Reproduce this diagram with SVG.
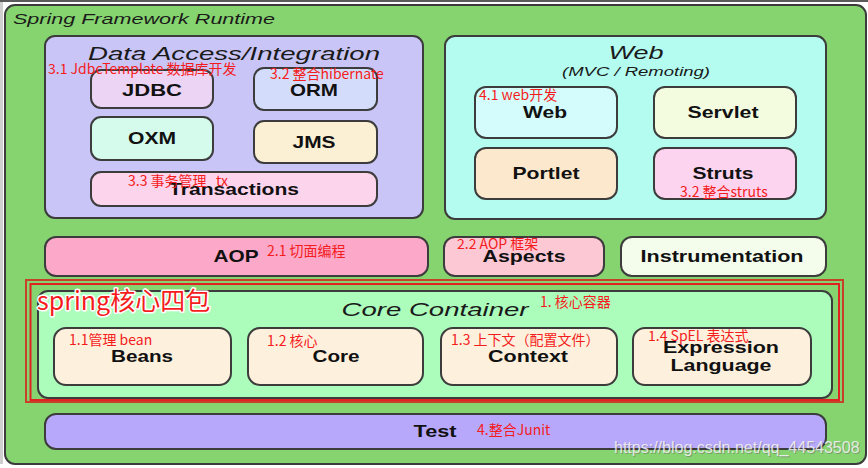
<svg xmlns="http://www.w3.org/2000/svg" width="868" height="468" viewBox="0 0 868 468">
<style>
.box{stroke:#3c3c3c;stroke-width:2}
.lbl{font-family:"Liberation Sans",Arial,sans-serif;font-weight:bold;font-size:17px;fill:#111;text-anchor:middle}
.ttl{font-family:"Liberation Sans",Arial,sans-serif;font-style:italic;fill:#1a1a1a;text-anchor:middle}
.note{font-family:"Noto Sans CJK SC","Noto Sans",sans-serif;font-size:14px;fill:#f41c1c}
</style>
<rect x="0" y="0" width="868" height="468" fill="#ffffff"/>
<rect x="0" y="0" width="868" height="2" fill="#5a5a5a"/>
<rect x="0" y="2" width="3" height="462" fill="#cfcfcf"/>

<g id="runtime">
<rect class="box" x="5" y="5" width="861" height="459" rx="10" fill="#86d46f"/>
<text class="ttl" x="13" y="24" font-size="15" style="text-anchor:start" textLength="262" lengthAdjust="spacingAndGlyphs">Spring Framework Runtime</text>
</g>

<g id="data-access">
<rect class="box" x="45" y="36" width="378" height="182" rx="10" fill="#c9c5f6"/>
<text class="ttl" x="234" y="60" font-size="19" textLength="292" lengthAdjust="spacingAndGlyphs">Data Access/Integration</text>
</g>
<g id="jdbc">
<rect class="box" x="91" y="70" width="122" height="38" rx="10" fill="#ecd4f4"/>
<text class="lbl" x="152" y="96" textLength="60" lengthAdjust="spacingAndGlyphs">JDBC</text>
</g>
<g id="orm">
<rect class="box" x="254" y="68" width="123" height="42" rx="10" fill="#d4dcfb"/>
<text class="lbl" x="314" y="96" textLength="48" lengthAdjust="spacingAndGlyphs">ORM</text>
</g>
<g id="oxm">
<rect class="box" x="91" y="117" width="122" height="43" rx="10" fill="#d4fbec"/>
<text class="lbl" x="152" y="144" textLength="48" lengthAdjust="spacingAndGlyphs">OXM</text>
</g>
<g id="jms">
<rect class="box" x="254" y="121" width="123" height="42" rx="10" fill="#fcf0d4"/>
<text class="lbl" x="314" y="148" textLength="43" lengthAdjust="spacingAndGlyphs">JMS</text>
</g>
<g id="transactions">
<rect class="box" x="91" y="172" width="286" height="34" rx="10" fill="#fcd4ec"/>
<text class="lbl" x="234" y="195" textLength="130" lengthAdjust="spacingAndGlyphs">Transactions</text>
</g>

<g id="web-group">
<rect class="box" x="445" y="36" width="381" height="183" rx="10" fill="#b4fcf0"/>
<text class="ttl" x="636" y="59" font-size="19" textLength="55" lengthAdjust="spacingAndGlyphs">Web</text>
<text class="ttl" x="636" y="76" font-size="13" textLength="148" lengthAdjust="spacingAndGlyphs">(MVC / Remoting)</text>
</g>
<g id="web">
<rect class="box" x="475" y="87" width="142" height="51" rx="11" fill="#d4fcfc"/>
<text class="lbl" x="545" y="118" textLength="44" lengthAdjust="spacingAndGlyphs">Web</text>
</g>
<g id="servlet">
<rect class="box" x="654" y="87" width="142" height="51" rx="11" fill="#f4fce0"/>
<text class="lbl" x="723" y="118" textLength="71" lengthAdjust="spacingAndGlyphs">Servlet</text>
</g>
<g id="portlet">
<rect class="box" x="475" y="148" width="142" height="51" rx="11" fill="#fce8cc"/>
<text class="lbl" x="546" y="179" textLength="67" lengthAdjust="spacingAndGlyphs">Portlet</text>
</g>
<g id="struts">
<rect class="box" x="654" y="148" width="142" height="51" rx="11" fill="#fcd4f0"/>
<text class="lbl" x="723" y="179" textLength="61" lengthAdjust="spacingAndGlyphs">Struts</text>
</g>

<g id="aop">
<rect class="box" x="45" y="237" width="383" height="39" rx="11" fill="#fca8c8"/>
<text class="lbl" x="236" y="262" textLength="45" lengthAdjust="spacingAndGlyphs">AOP</text>
</g>
<g id="aspects">
<rect class="box" x="444" y="237" width="160" height="39" rx="11" fill="#fcc8d4"/>
<text class="lbl" x="524" y="262" textLength="83" lengthAdjust="spacingAndGlyphs">Aspects</text>
</g>
<g id="instrumentation">
<rect class="box" x="621" y="237" width="205" height="39" rx="11" fill="#f4fcec"/>
<text class="lbl" x="722" y="262" textLength="163" lengthAdjust="spacingAndGlyphs">Instrumentation</text>
</g>

<g id="core-container">
<rect class="box" x="38" y="291" width="794" height="107" rx="10" fill="#acfcbc"/>
<text class="ttl" x="435" y="316" font-size="19" textLength="187" lengthAdjust="spacingAndGlyphs">Core Container</text>
</g>
<g id="beans">
<rect class="box" x="54" y="328" width="177" height="57" rx="12" fill="#fdf0dc"/>
<text class="lbl" x="142" y="362" textLength="62" lengthAdjust="spacingAndGlyphs">Beans</text>
</g>
<g id="core">
<rect class="box" x="248" y="328" width="175" height="57" rx="12" fill="#fdf0dc"/>
<text class="lbl" x="336" y="362" textLength="47" lengthAdjust="spacingAndGlyphs">Core</text>
</g>
<g id="context">
<rect class="box" x="441" y="328" width="176" height="57" rx="12" fill="#fdf0dc"/>
<text class="lbl" x="528" y="362" textLength="80" lengthAdjust="spacingAndGlyphs">Context</text>
</g>
<g id="expression-language">
<rect class="box" x="633" y="328" width="178" height="57" rx="12" fill="#fdf0dc"/>
<text class="lbl" x="721" y="353" textLength="116" lengthAdjust="spacingAndGlyphs">Expression</text>
<text class="lbl" x="721" y="371" textLength="101" lengthAdjust="spacingAndGlyphs">Language</text>
</g>

<g id="test">
<rect class="box" x="45" y="414" width="781" height="35" rx="11" fill="#b8a8fc"/>
<text class="lbl" x="435" y="437" textLength="43" lengthAdjust="spacingAndGlyphs">Test</text>
</g>

<g id="highlight-frame" fill="none">
<rect x="26" y="280" width="817" height="122" stroke="#c8402a" stroke-width="2"/>
<rect x="30.5" y="284" width="808.5" height="116" stroke="#e02222" stroke-width="2"/>
</g>

<g id="connectors"></g>

<g id="annotations">
<text class="note" x="48" y="74">3.1 JdbcTemplate 数据库开发</text>
<text class="note" x="270" y="79">3.2 整合hibernate</text>
<text class="note" x="128" y="186" xml:space="preserve">3.3 事务管理   tx</text>
<text class="note" x="479" y="100">4.1 web开发</text>
<text class="note" x="680" y="197">3.2 整合struts</text>
<text class="note" x="267" y="256">2.1 切面编程</text>
<text class="note" x="457" y="249">2.2 AOP 框架</text>
<text class="note" x="540" y="307">1. 核心容器</text>
<text class="note" x="69" y="345">1.1管理 bean</text>
<text class="note" x="267" y="346">1.2 核心</text>
<text class="note" x="451" y="345">1.3 上下文（配置文件）</text>
<text class="note" x="648" y="341">1.4 SpEL 表达式</text>
<text class="note" x="477" y="435">4.整合Junit</text>
<text x="37" y="310" font-family="Noto Sans CJK SC, Noto Sans, sans-serif" font-size="25" fill="#f41c1c" stroke="#ffffff" stroke-width="3" paint-order="stroke" stroke-linejoin="round">spring核心四包</text>
</g>

<g id="watermark" font-family="Liberation Sans, Arial, sans-serif" font-size="16">
<text x="615" y="454" fill="#6a6a6a" opacity="0.5">https://blog.csdn.net/qq_44543508</text>
<text x="614" y="453" fill="#f4f4f4" opacity="0.85">https://blog.csdn.net/qq_44543508</text>
</g>
</svg>
